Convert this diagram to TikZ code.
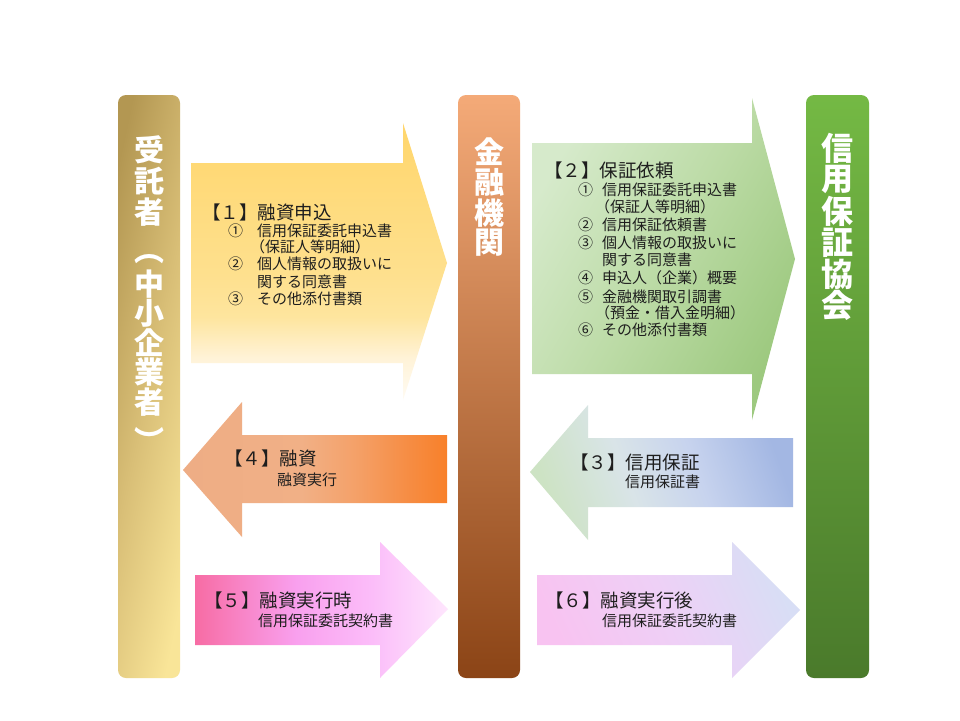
\documentclass[tikz,border=0pt]{standalone}
\usepackage{fontspec}
\setmainfont{Noto Sans CJK JP}
\definecolor{txt}{HTML}{1E1E1E}
% bars
\definecolor{gdA}{HTML}{B39752}
\definecolor{gdB}{HTML}{D9BF77}
\definecolor{gdC}{HTML}{F9E598}
\definecolor{mdA}{HTML}{F4AA78}
\definecolor{mdB}{HTML}{C97F50}
\definecolor{mdC}{HTML}{8B4416}
\definecolor{rtA}{HTML}{74B944}
\definecolor{rtB}{HTML}{5E9A38}
\definecolor{rtC}{HTML}{4A7A2B}
% arrow 1
\definecolor{yA}{HTML}{FFD66C}
\definecolor{yB}{HTML}{FEE08E}
\definecolor{yC}{HTML}{FEE59E}
\definecolor{yD}{HTML}{FFF3D8}
\definecolor{yE}{HTML}{FFFBF3}
% arrow 2
\definecolor{gA}{HTML}{D6EACB}
\definecolor{gB}{HTML}{BCDBA6}
\definecolor{gC}{HTML}{9DC97F}
% arrow 4
\definecolor{oA}{HTML}{EEAD85}
\definecolor{oB}{HTML}{F1B086}
\definecolor{oC}{HTML}{F4A169}
\definecolor{oD}{HTML}{F68D44}
\definecolor{oE}{HTML}{F8802A}
% arrow 3
\definecolor{bA}{HTML}{CDE3C4}
\definecolor{bB}{HTML}{D9E4E8}
\definecolor{bC}{HTML}{C7D3EE}
\definecolor{bD}{HTML}{A3B7E3}
% arrow 5
\definecolor{pA}{HTML}{F76CA4}
\definecolor{pB}{HTML}{F884C6}
\definecolor{pC}{HTML}{F9A0EE}
\definecolor{pD}{HTML}{FBBDF9}
\definecolor{pE}{HTML}{FEE6FD}
% arrow 6
\definecolor{vA}{HTML}{F8C3F1}
\definecolor{vB}{HTML}{EED0F6}
\definecolor{vC}{HTML}{D8DEF5}

\pgfdeclarehorizontalshading{goldbar}{100bp}{color(0bp)=(gdA); color(25bp)=(gdA); color(50bp)=(gdB); color(75bp)=(gdC); color(100bp)=(gdC)}
\pgfdeclareverticalshading{shYel}{100bp}{color(0bp)=(yE); color(25bp)=(yE); color(32.5bp)=(yD); color(40bp)=(yC); color(47.5bp)=(yB); color(75bp)=(yA); color(100bp)=(yA)}
\pgfdeclarehorizontalshading{shGrn}{100bp}{color(0bp)=(gA); color(25bp)=(gA); color(50bp)=(gB); color(75bp)=(gC); color(100bp)=(gC)}
\pgfdeclarehorizontalshading{shOra}{100bp}{color(0bp)=(oA); color(25bp)=(oA); color(47.5bp)=(oB); color(57.5bp)=(oC); color(67.5bp)=(oD); color(75bp)=(oE); color(100bp)=(oE)}
\pgfdeclarehorizontalshading{shBlu}{100bp}{color(0bp)=(bA); color(25bp)=(bA); color(42.5bp)=(bB); color(57.5bp)=(bC); color(75bp)=(bD); color(100bp)=(bD)}
\pgfdeclarehorizontalshading{shPnk}{100bp}{color(0bp)=(pA); color(25bp)=(pA); color(34bp)=(pB); color(45bp)=(pC); color(60bp)=(pD); color(75bp)=(pE); color(100bp)=(pE)}
\pgfdeclarehorizontalshading{shLav}{100bp}{color(0bp)=(vA); color(25bp)=(vA); color(50bp)=(vB); color(75bp)=(vC); color(100bp)=(vC)}

\begin{document}
\begin{tikzpicture}[x=1pt,y=-1pt,
  barbox/.style={rounded corners=8pt, draw=none, inner sep=0pt},
  bartext/.style={text=white, inner sep=0pt, font=\fontsize{30}{30}\selectfont\bfseries},
  bartextR/.style={text=white, inner sep=0pt, font=\fontsize{32}{32}\selectfont\bfseries},
  hdr/.style={anchor=west, inner sep=0pt, text=txt, font=\fontsize{18.5}{18.5}\selectfont},
  itm/.style={anchor=west, inner sep=0pt, text=txt, font=\fontsize{15}{15}\selectfont}]
\useasboundingbox (0,0) rectangle (960,720);
\fill[white] (0,0) rectangle (960,720);

% ---- bars ----
\shade[barbox, shading=goldbar, shading angle=-12] (118,95) rectangle (180,678);
\shade[barbox, top color=mdA, middle color=mdB, bottom color=mdC] (458,95) rectangle (520,678);
\shade[barbox, top color=rtA, middle color=rtB, bottom color=rtC] (806,95) rectangle (869,678);

\foreach \ch/\yy [count=\i] in {受/150, 託/181, 者/212, ︵/259, 中/284, 小/313, 企/343, 業/372, 者/402, ︶/440}
  \node[bartext] (L\i) at (149,\yy) {\ch};
\foreach \ch/\yy [count=\i] in {金/152, 融/182, 機/213, 関/243}
  \node[bartext] (M\i) at (489,\yy) {\ch};
\foreach \ch/\yy [count=\i] in {信/148, 用/179.5, 保/211, 証/242.5, 協/274, 会/305.5}
  \node[bartextR] (R\i) at (837.5,\yy) {\ch};

% ---- arrow 1 ----
\shade[shading=shYel] (191,163) -- (403,163) -- (403,123) -- (447,263) -- (403,400) -- (403,363) -- (191,363) -- cycle;
\node[hdr] (t1h) at (202,212) {【１】融資申込};
\node[itm] (n1a) at (228,231) {①};
\node[itm] (t1a) at (257,231) {信用保証委託申込書};
\node[itm] (t1b) at (250,247) {（保証人等明細）};
\node[itm] (n1b) at (228,264) {②};
\node[itm] (t1c) at (257,264) {個人情報の取扱いに};
\node[itm] (t1d) at (257,282) {関する同意書};
\node[itm] (n1c) at (228,299) {③};
\node[itm] (t1e) at (257,299) {その他添付書類};

% ---- arrow 2 ----
\shade[shading=shGrn, shading angle=-30] (532,143) -- (752,143) -- (752,98) -- (795,259) -- (752,420) -- (752,374) -- (532,374) -- cycle;
\node[hdr] (t2h) at (544,170) {【２】保証依頼};
\node[itm] (n2a) at (578,190) {①};
\node[itm] (t2a) at (602,190) {信用保証委託申込書};
\node[itm] (t2b) at (595,207) {（保証人等明細）};
\node[itm] (n2b) at (578,225) {②};
\node[itm] (t2c) at (602,225) {信用保証依頼書};
\node[itm] (n2c) at (578,243) {③};
\node[itm] (t2d) at (602,243) {個人情報の取扱いに};
\node[itm] (t2e) at (602,260) {関する同意書};
\node[itm] (n2d) at (578,278) {④};
\node[itm] (t2f) at (602,278) {申込人（企業）概要};
\node[itm] (n2e) at (578,297) {⑤};
\node[itm] (t2g) at (602,297) {金融機関取引調書};
\node[itm] (t2h2) at (595,313) {（預金・借入金明細）};
\node[itm] (n2f) at (578,330) {⑥};
\node[itm] (t2i) at (602,330) {その他添付書類};

% ---- arrow 4 (left) ----
\shade[shading=shOra] (447,435) -- (242,435) -- (242,402) -- (183,470) -- (242,537) -- (242,503) -- (447,503) -- cycle;
\node[hdr] (t4h) at (224,458) {【４】融資};
\node[itm] (t4a) at (277,480) {融資実行};

% ---- arrow 3 (left) ----
\shade[shading=shBlu, shading angle=20] (793,438) -- (588,438) -- (588,405) -- (530,472) -- (588,540) -- (588,507) -- (793,507) -- cycle;
\node[hdr] (t3h) at (570,462) {【３】信用保証};
\node[itm] (t3a) at (625,482) {信用保証書};

% ---- arrow 5 ----
\shade[shading=shPnk] (195,575) -- (380,575) -- (380,542) -- (448,609) -- (380,678) -- (380,645) -- (195,645) -- cycle;
\node[hdr] (t5h) at (204,600) {【５】融資実行時};
\node[itm] (t5a) at (258,621) {信用保証委託契約書};

% ---- arrow 6 ----
\shade[shading=shLav, shading angle=25] (537,575) -- (732,575) -- (732,542) -- (800,610) -- (732,678) -- (732,645) -- (537,645) -- cycle;
\node[hdr] (t6h) at (545,600) {【６】融資実行後};
\node[itm] (t6a) at (602,621) {信用保証委託契約書};
\end{tikzpicture}
\end{document}
